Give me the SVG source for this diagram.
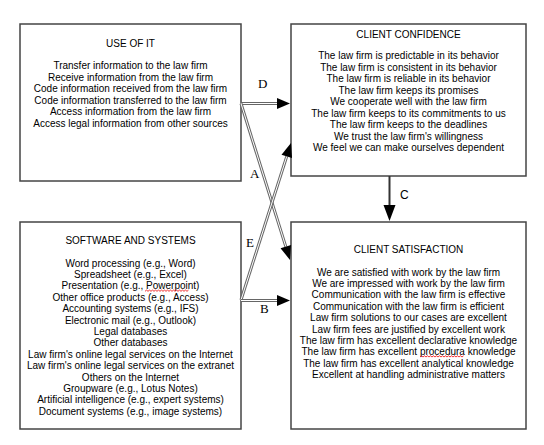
<svg xmlns="http://www.w3.org/2000/svg" width="544" height="445" viewBox="0 0 544 445">
<style>
.box{fill:#fff;stroke:#444;stroke-width:1.5}
.t{font-family:"Liberation Sans",Arial,sans-serif;font-size:10px;fill:#000;text-anchor:middle}
.lbl{font-family:"Liberation Serif","Times New Roman",serif;font-size:13px;fill:#000}
.lbls{font-family:"Liberation Sans",Arial,sans-serif;font-size:12px;fill:#000}
.outer{stroke:#666;stroke-width:3;fill:none}
.inner{stroke:#fff;stroke-width:1;fill:none}
.head{fill:#000}
.wavy{fill:none;stroke:#e00;stroke-width:0.8}
</style>
<rect width="544" height="445" fill="#fff"/>
<g id="use-of-it">
<rect class="box" x="20" y="24" width="221" height="157"/>
<text class="t" x="130.5" y="47">USE OF IT</text>
<text class="t" x="130.5" y="69">Transfer information to the law firm</text>
<text class="t" x="130.5" y="80.5">Receive information from the law firm</text>
<text class="t" x="130.5" y="92">Code information received from the law firm</text>
<text class="t" x="130.5" y="103.5">Code information transferred to the law firm</text>
<text class="t" x="130.5" y="115">Access information from the law firm</text>
<text class="t" x="130.5" y="126.5">Access legal information from other sources</text>
</g>
<g id="client-confidence">
<rect class="box" x="291" y="24" width="235" height="152"/>
<text class="t" x="408.5" y="38">CLIENT CONFIDENCE</text>
<text class="t" x="408.5" y="59">The law firm is predictable in its behavior</text>
<text class="t" x="408.5" y="70.5">The law firm is consistent in its behavior</text>
<text class="t" x="408.5" y="82">The law firm is reliable in its behavior</text>
<text class="t" x="408.5" y="93.5">The law firm keeps its promises</text>
<text class="t" x="408.5" y="105">We cooperate well with the law firm</text>
<text class="t" x="408.5" y="116.5">The law firm keeps to its commitments to us</text>
<text class="t" x="408.5" y="128">The law firm keeps to the deadlines</text>
<text class="t" x="408.5" y="139.5">We trust the law firm's willingness</text>
<text class="t" x="408.5" y="151">We feel we can make ourselves dependent</text>
</g>
<g id="software-and-systems">
<rect class="box" x="20" y="222" width="221" height="207"/>
<text class="t" x="130.5" y="244">SOFTWARE AND SYSTEMS</text>
<text class="t" x="130.5" y="266.5">Word processing (e.g., Word)</text>
<text class="t" x="130.5" y="277.9">Spreadsheet (e.g., Excel)</text>
<text class="t" x="130.5" y="289.3">Presentation (e.g., Powerpoint)</text>
<text class="t" x="130.5" y="300.7">Other office products (e.g., Access)</text>
<text class="t" x="130.5" y="312.1">Accounting systems (e.g., IFS)</text>
<text class="t" x="130.5" y="323.5">Electronic mail (e.g., Outlook)</text>
<text class="t" x="130.5" y="334.9">Legal databases</text>
<text class="t" x="130.5" y="346.3">Other databases</text>
<text class="t" x="130.5" y="357.7">Law firm's online legal services on the Internet</text>
<text class="t" x="130.5" y="369.1">Law firm's online legal services on the extranet</text>
<text class="t" x="130.5" y="380.5">Others on the Internet</text>
<text class="t" x="130.5" y="391.9">Groupware (e.g., Lotus Notes)</text>
<text class="t" x="130.5" y="403.3">Artificial intelligence (e.g., expert systems)</text>
<text class="t" x="130.5" y="414.7">Document systems (e.g., image systems)</text>
<path class="wavy" d="M145 291.3 l1.5 -1.2 l1.5 1.2 l1.5 -1.2 l1.5 1.2 l1.5 -1.2 l1.5 1.2 l1.5 -1.2 l1.5 1.2 l1.5 -1.2 l1.5 1.2 l1.5 -1.2 l1.5 1.2 l1.5 -1.2 l1.5 1.2 l1.5 -1.2 l1.5 1.2 l1.5 -1.2 l1.5 1.2 l1.5 -1.2 l1.5 1.2 l1.5 -1.2 l1.5 1.2 l1.5 -1.2 l1.5 1.2 l1.5 -1.2 l1.5 1.2 l1.5 -1.2 l1.5 1.2 l1.5 -1.2"/>
</g>
<g id="client-satisfaction">
<rect class="box" x="291" y="222" width="235" height="207"/>
<text class="t" x="408.5" y="253">CLIENT SATISFACTION</text>
<text class="t" x="408.5" y="275.5">We are satisfied with work by the law firm</text>
<text class="t" x="408.5" y="286.9">We are impressed with work by the law firm</text>
<text class="t" x="408.5" y="298.3">Communication with the law firm is effective</text>
<text class="t" x="408.5" y="309.7">Communication with the law firm is efficient</text>
<text class="t" x="408.5" y="321.1">Law firm solutions to our cases are excellent</text>
<text class="t" x="408.5" y="332.5">Law firm fees are justified by excellent work</text>
<text class="t" x="408.5" y="343.9">The law firm has excellent declarative knowledge</text>
<text class="t" x="408.5" y="355.3">The law firm has excellent procedura knowledge</text>
<text class="t" x="408.5" y="366.7">The law firm has excellent analytical knowledge</text>
<text class="t" x="408.5" y="378.1">Excellent at handling administrative matters</text>
<path class="wavy" d="M420 357 l1.5 -1.2 l1.5 1.2 l1.5 -1.2 l1.5 1.2 l1.5 -1.2 l1.5 1.2 l1.5 -1.2 l1.5 1.2 l1.5 -1.2 l1.5 1.2 l1.5 -1.2 l1.5 1.2 l1.5 -1.2 l1.5 1.2 l1.5 -1.2 l1.5 1.2 l1.5 -1.2 l1.5 1.2 l1.5 -1.2 l1.5 1.2 l1.5 -1.2 l1.5 1.2 l1.5 -1.2 l1.5 1.2 l1.5 -1.2 l1.5 1.2 l1.5 -1.2 l1.5 1.2 l1.5 -1.2"/>
</g>
<g id="connectors">
<path class="outer" d="M241 103.5 L277 103.5"/>
<path class="inner" d="M241 103.5 L277 103.5"/>
<polygon class="head" points="290,103.5 277,98 277,109"/>
<path class="outer" d="M241 103.5 L285.8 246.6"/>
<path class="inner" d="M241 103.5 L285.8 246.6"/>
<polygon class="head" points="290,260 291.05,244.95 280.55,248.25"/>
<path class="outer" d="M241 300 L286.75 156.34"/>
<path class="inner" d="M241 300 L286.75 156.34"/>
<polygon class="head" points="291,143 291.99,158 281.5,154.67"/>
<path class="outer" d="M241 300.5 L277 300.5"/>
<path class="inner" d="M241 300.5 L277 300.5"/>
<polygon class="head" points="290,300.5 277,295 277,306"/>
<path d="M389.5 176 L389.5 206" stroke="#333" stroke-width="2" fill="none"/>
<polygon class="head" points="389.5,221 383.5,205 395.5,205"/>
<text class="lbl" x="258" y="88">D</text>
<text class="lbl" x="250" y="178">A</text>
<text class="lbl" x="246" y="247">E</text>
<text class="lbl" x="260" y="313">B</text>
<text class="lbls" x="400" y="199">C</text>
</g>
</svg>
